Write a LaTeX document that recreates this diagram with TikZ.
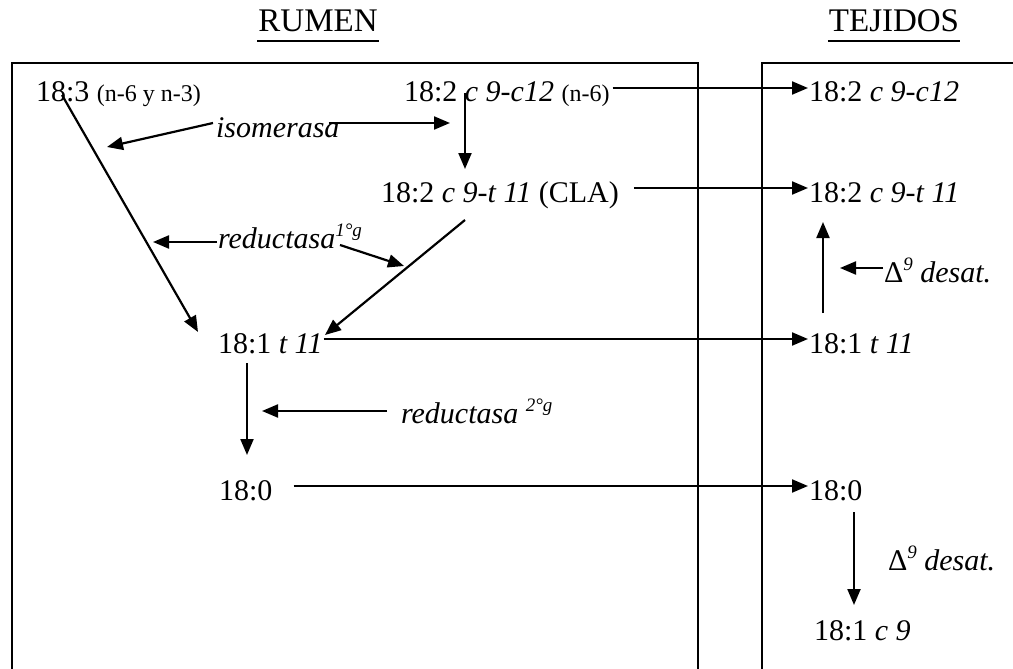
\documentclass[tikz,border=0pt]{standalone}
\usepackage{fontspec}
\setmainfont{Liberation Serif}
\usetikzlibrary{arrows.meta,calc}
\newcommand{\supsm}[1]{\raisebox{12pt}{\fontsize{19}{22}\selectfont #1}}
\begin{document}
\begin{tikzpicture}[x=1pt,y=-1pt,line width=2.2pt,
  arr/.style={-{Triangle[length=16pt,width=13pt]}},
  fa/.style={inner sep=0pt,anchor=base west,text height=28pt,text depth=0pt,
    font=\fontsize{30}{36}\selectfont},
  enz/.style={inner sep=0pt,anchor=base west,font=\fontsize{30}{36}\selectfont\itshape},
  head/.style={inner sep=0pt,anchor=base,font=\fontsize{33}{40}\selectfont}]
\useasboundingbox (0,0) rectangle (1013,669);
\clip (0,0) rectangle (1013,669);

% compartments
\draw (12,690) -- (12,63) -- (698,63) -- (698,690);
\draw (762,690) -- (762,63) -- (1030,63);

% headings
\node[head] (rumen) at (318,32) {RUMEN};
\node[head] (tej) at (894,32) {TEJIDOS};
\draw[line width=2.4pt] ($(rumen.base west)+(0,9)$) -- ($(rumen.base east)+(0,9)$);
\draw[line width=2.4pt] ($(tej.base west)+(0,9)$) -- ($(tej.base east)+(0,9)$);

% fatty acids, rumen
\node[fa] (A) at (35,102) {18:3 {\fontsize{24}{28}\selectfont (n-6 y n-3)}};
\node[fa] (B) at (403,102) {18:2 \textit{c 9-c12} {\fontsize{24}{28}\selectfont (n-6)}};
\node[fa] (C) at (380,202) {18:2 \textit{c 9-t 11} (CLA)};
\node[fa] (D) at (217,353) {18:1 \textit{t 11}};
\node[fa] (E) at (218,500) {18:0};

% fatty acids, tissues
\node[fa] (F) at (808,102) {18:2 \textit{c 9-c12}};
\node[fa] (G) at (808,202) {18:2 \textit{c 9-t 11}};
\node[fa] (H) at (808,353) {18:1 \textit{t 11}};
\node[fa] (I) at (808,500) {18:0};
\node[fa] (J) at (813,640) {18:1 \textit{c 9}};

% enzymes
\node[enz] (iso) at (215,137) {isomerasa};
\node[enz] (red1) at (217,248) {reductasa\supsm{1°g}};
\node[enz] (red2) at (400,423) {reductasa \supsm{2°g}};
\node[enz] (des1) at (883,282) {{\upshape Δ}\supsm{9} desat.};
\node[enz] (des2) at (887,570) {{\upshape Δ}\supsm{9} desat.};

\coordinate (isoL) at (107,147);
\coordinate (isoR) at (450,123);
\coordinate (red1L) at (153,242);
\coordinate (red1R) at (404,266);
\coordinate (red2T) at (262,411);
\coordinate (des1T) at (840,268);

% transfer rumen -> tissues
\draw[arr] ($(B.east)+(2,0)$) -- (F.west);
\draw[arr] ($(C.east)+(14,0)$) -- (G.west);
\draw[arr] (D.east) -- (H.west);
\draw[arr] ($(E.east)+(20,0)$) -- (I.west);

% conversions in the rumen
\draw[arr] ($(B.base west)+(62,-9)$) -- ($(C.base west)+(85,-33)$);
\draw[arr] ($(A.base west)+(27,-7)$) -- ($(D.base west)+(-19,-21)$);
\draw[arr] ($(C.base west)+(85,18)$) -- ($(D.base west)+(108,-18)$);
\draw[arr] ($(D.base west)+(30,10)$) -- ($(E.base west)+(29,-45)$);

% conversions in tissues
\draw[arr] ($(H.base west)+(15,-40)$) -- ($(G.base west)+(15,20)$);
\draw[arr] ($(I.base west)+(46,12)$) -- ($(J.base west)+(41,-35)$);

% enzyme pointers
\draw[arr] ($(iso.base west)+(-2,-14)$) -- (isoL);
\draw[arr] ($(iso.base east)+(-12,-14)$) -- (isoR);
\draw[arr] ($(red1.base west)+(0,-6)$) -- (red1L);
\draw[arr] ($(red1.base west)+(123,-3)$) -- (red1R);
\draw[arr] ($(red2.base west)+(-13,-12)$) -- (red2T);
\draw[arr] ($(des1.base west)+(0,-14)$) -- (des1T);
\end{tikzpicture}
\end{document}
